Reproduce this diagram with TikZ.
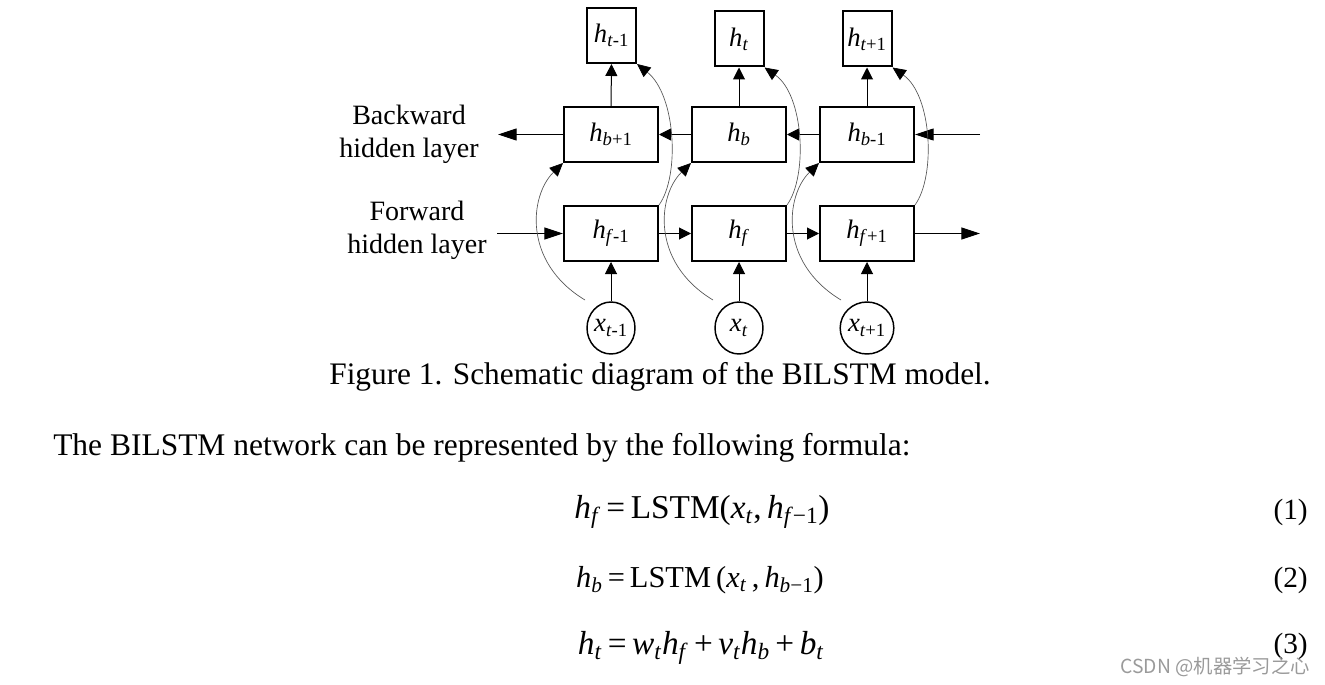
\documentclass[tikz,border=0pt]{standalone}
\usepackage{fontspec}
\setmainfont{Liberation Serif}
\newfontfamily\wmfont{Noto Sans CJK SC}
\usepackage{tikz}
\usetikzlibrary{arrows.meta,shapes.geometric}
\definecolor{cink}{HTML}{000000}
\definecolor{cline}{HTML}{555555}
\definecolor{cmark}{HTML}{9A9A9A}
\tikzset{
  cell/.style={draw,line width=1.5pt,minimum width=70.5pt,minimum height=41.25pt,inner sep=0pt,font=\fontsize{20}{24}\selectfont},
  outcell/.style={cell,minimum width=36.75pt},
  incell/.style={draw,ellipse,line width=1.1pt,minimum width=36pt,minimum height=39pt,inner sep=0pt,font=\fontsize{20}{24}\selectfont},
  arr/.style={line width=0.75pt,-{Triangle[length=9pt,width=9pt]}},
  endarr/.style={line width=0.75pt,-{Triangle[length=14pt,width=9pt]}},
  skip/.style={cline,line width=0.5pt,-{Triangle[length=10pt,width=9pt,color=cink]}},
  lbl/.style={align=center,font=\fontsize{21}{24.75}\selectfont},
  plain/.style={inner sep=0pt}
}
\newcommand{\hs}[2]{\textit{#1}\textsubscript{#2}}

\begin{document}
\begin{tikzpicture}[x=0.75pt,y=-0.75pt]
\useasboundingbox (0,0) rectangle (1325,685);

% ===== the BILSTM schematic =====
\node[outcell] (t1) at (611.5,35.5) {\hs{h}{\textit{t}-1}};
\node[outcell] (t2) at (739,39) {\hs{h}{\textit{t}}};
\node[outcell] (t3) at (867,39) {\hs{h}{\textit{t}+1}};
\node[cell] (b1) at (611,134.5) {\hs{h}{\textit{b}+1}};
\node[cell] (b2) at (739,134.5) {\hs{h}{\textit{b}}};
\node[cell] (b3) at (867,134.5) {\hs{h}{\textit{b}-1}};
\node[cell] (f1) at (611,233.5) {\hs{h}{\textit{f}-1}};
\node[cell] (f2) at (739,233.5) {\hs{h}{\textit{f}}};
\node[cell] (f3) at (867,233.5) {\hs{h}{\textit{f}+1}};
\node[incell] (x1) at (611,328) {\hs{x}{\textit{t}-1}};
\node[incell] (x2) at (739,328) {\hs{x}{\textit{t}}};
\node[incell] (x3) at (867,328) {\hs{x}{\textit{t}+1}};
\node[lbl] (bwd) at (409,134.5) {Backward\\hidden layer};
\node[lbl] (fwd) at (417,230.5) {Forward\\hidden layer};

\coordinate (bl) at (498,134.5);
\coordinate (br) at (980,134.5);
\coordinate (fl) at (497,233.5);
\coordinate (fr) at (980,233.5);
\coordinate (s1) at (585,300);
\coordinate (s2) at (713,300);
\coordinate (s3) at (841,300);

% chains
\draw[endarr] (b1.west) -- (bl);
\draw[arr] (b2.west) -- (b1.east);
\draw[arr] (b3.west) -- (b2.east);
\draw[endarr] (br) -- (b3.east);
\draw[endarr] (fl) -- (f1.west);
\draw[arr] (f1.east) -- (f2.west);
\draw[arr] (f2.east) -- (f3.west);
\draw[endarr] (f3.east) -- (fr);
\foreach \i in {1,2,3}{
  \draw[arr] (x\i.north) -- (f\i.south);
  \draw[arr] (b\i.north) -- (t\i.south);
}

% skip curves
\draw[skip] (s1) .. controls (522,262) and (530,195) .. (b1.south west);
\draw[skip] (s2) .. controls (650,262) and (658,195) .. (b2.south west);
\draw[skip] (s3) .. controls (778,262) and (786,195) .. (b3.south west);
\draw[skip] (f1.north east) .. controls (680,176) and (676,95) .. (t1.south east);
\draw[skip] (f2.north east) .. controls (808,176) and (804,95) .. (t2.south east);
\draw[skip] (f3.north east) .. controls (936,176) and (932,95) .. (t3.south east);

% ===== caption, text and formulas =====
\node[plain,font=\fontsize{23.5}{28}\selectfont] (cap) at (660,377) {Figure 1. Schematic diagram of the BILSTM model.};
\node[plain,anchor=west,font=\fontsize{23.6}{28}\selectfont] (intro) at (53,448) {The BILSTM network can be represented by the following formula:};
\node[plain,font=\fontsize{25}{30}\selectfont] (eq1) at (702,512) {\hs{h}{\textit{f}}\,=\,LSTM(\hs{x}{\textit{t}},\,\hs{h}{\textit{f}−1})};
\node[plain,font=\fontsize{22.8}{27}\selectfont] (eq2) at (700,580) {\hs{h}{\textit{b}}\,=\,LSTM\,(\hs{x}{\textit{t}}\,,\,\hs{h}{\textit{b}−1})};
\node[plain,font=\fontsize{25}{30}\selectfont] (eq3) at (701,648) {\hs{h}{\textit{t}}\,=\,\hs{w}{\textit{t}}\hs{h}{\textit{f}}\,+\,\hs{v}{\textit{t}}\hs{h}{\textit{b}}\,+\,\hs{b}{\textit{t}}};
\node[plain,anchor=east,font=\fontsize{22}{26}\selectfont] (n1) at (1308,512) {(1)};
\node[plain,anchor=east,font=\fontsize{22}{26}\selectfont] (n2) at (1308,580) {(2)};
\node[plain,anchor=east,font=\fontsize{22}{26}\selectfont] (n3) at (1308,646) {(3)};
\node[plain,anchor=east,text=cmark,font=\wmfont\fontsize{14.5}{17}\selectfont] (wm) at (1310,667) {CSDN @机器学习之心};

\end{tikzpicture}
\end{document}
